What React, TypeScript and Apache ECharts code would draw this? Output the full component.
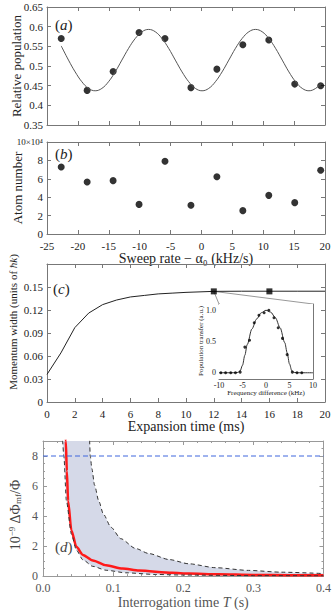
import React, { useEffect, useRef } from "react";
import * as echarts from "echarts";

// ---- Panel (a) / (b): sweep rate data ----
const sweepRate = [-22.7, -18.5, -14.3, -10.1, -5.9, -1.7, 2.5, 6.7, 10.9, 15.1, 19.3];
const relPop = [0.57, 0.438, 0.486, 0.585, 0.57, 0.445, 0.492, 0.554, 0.566, 0.454, 0.45];
const fitSweep = [
  -22.7, -21.52, -20.44, -19.36, -18.28, -17.2, -16.12, -15.04, -13.96, -12.88, -11.79, -10.71, -9.63,
  -8.55, -7.47, -6.39, -5.31, -4.23, -3.14, -2.06, -0.98, 0.1, 1.18, 2.26, 3.34, 4.43, 5.51, 6.59, 7.67,
  8.75, 9.83, 10.91, 11.99, 13.08, 14.16, 15.24, 16.32, 17.4, 18.48, 19.3,
];
const fitPop = [
  0.551, 0.515, 0.485, 0.46, 0.443, 0.437, 0.443, 0.46, 0.485, 0.515, 0.545, 0.57, 0.587, 0.593, 0.587,
  0.57, 0.545, 0.515, 0.485, 0.46, 0.443, 0.437, 0.443, 0.46, 0.485, 0.515, 0.545, 0.57, 0.587, 0.593,
  0.587, 0.57, 0.545, 0.515, 0.485, 0.46, 0.443, 0.437, 0.443, 0.455,
];
const atomNumber = [7.28, 5.65, 5.8, 3.22, 7.9, 3.12, 6.23, 2.54, 4.2, 3.41, 6.92]; // x10^4

// ---- Panel (c): expansion ----
const expTime = [0, 1, 2, 3, 4, 5, 6, 7, 8, 9, 10, 12, 14, 16, 18, 20];
const momWidth = [0.036, 0.064, 0.097, 0.116, 0.127, 0.133, 0.137, 0.139, 0.141, 0.142, 0.143, 0.1443, 0.1445, 0.1445, 0.1445, 0.1445];
const markerTime = [12, 16];
const markerWidth = [0.1443, 0.1443];

// ---- Inset ----
const freqDiff = [-9.6, -8.6, -7.5, -6.5, -5.5, -4.5, -3.5, -2.5, -1.5, -0.4, 0.6, 1.7, 2.6, 3.5, 4.5, 5.6, 6.6, 7.6];
const popTransfer = [0, 0, 0, 0, 0.01, 0.41, 0.52, 0.8, 0.92, 0.96, 1.0, 0.88, 0.72, 0.55, 0.29, 0.01, 0, 0];
const fitFreq = [-10, -7, -6, -5.5, -5, -4.5, -4, -3, -2, -1, 0, 1, 2, 3, 4, 4.5, 5, 5.5, 6, 7, 10];
const fitTransfer = [0, 0, 0.005, 0.03, 0.12, 0.28, 0.45, 0.7, 0.86, 0.96, 1.0, 0.97, 0.88, 0.72, 0.48, 0.32, 0.14, 0.03, 0.005, 0, 0];

// ---- Panel (d) ----
const redT = [0.0318, 0.0325, 0.034, 0.0358, 0.0405, 0.0476, 0.057, 0.0711, 0.09, 0.1135, 0.137, 0.184, 0.208, 0.25, 0.3, 0.35, 0.4];
const redV = [9.5, 9.0, 7.0, 5.0, 3.04, 1.95, 1.41, 1.04, 0.72, 0.5, 0.37, 0.22, 0.17, 0.12, 0.08, 0.06, 0.05];
const lowT = [0.0272, 0.0278, 0.0297, 0.0334, 0.0405, 0.0476, 0.057, 0.071, 0.09, 0.118, 0.16, 0.2, 0.3, 0.4];
const lowV = [9.5, 9.0, 8.0, 5.0, 2.8, 1.73, 1.08, 0.65, 0.39, 0.22, 0.11, 0.07, 0.03, 0.02];
const upT = [0.0658, 0.0664, 0.0674, 0.0697, 0.0735, 0.0796, 0.0862, 0.097, 0.111, 0.132, 0.151, 0.18, 0.208, 0.246, 0.293, 0.34, 0.4];
const upV = [9.5, 9.0, 8.0, 7.16, 6.07, 4.99, 4.12, 3.25, 2.49, 1.84, 1.5, 1.1, 0.82, 0.56, 0.38, 0.26, 0.17];
const limitLevel = 8;

const SERIF = "Liberation Serif";
const TXT = "#222";
const BOX = "#777";

const zip = (a: number[], b: number[]) => a.map((v, i) => [v, b[i]]);

function axisBase(gridIndex: number, min: number, max: number, interval: number | undefined, extra: any) {
  return {
    type: "value",
    gridIndex,
    min,
    max,
    interval,
    splitLine: { show: false },
    axisLine: { show: true, onZero: false, lineStyle: { color: extra.lineColor || BOX } },
    axisTick: { show: true, inside: true, length: extra.tickLen || 4, lineStyle: { color: extra.lineColor || BOX }, ...(extra.tick || {}) },
    minorTick: extra.minor || { show: false },
  };
}
function xPair(gridIndex: number, min: number, max: number, interval: number | undefined, label: any, extra: any = {}) {
  const base = axisBase(gridIndex, min, max, interval, extra);
  return [
    { ...base, position: "bottom", axisLabel: label, ...(extra.name || {}) },
    { ...base, position: "top", axisLabel: { show: false } },
  ];
}
function yPair(gridIndex: number, min: number, max: number, interval: number | undefined, label: any, extra: any = {}) {
  const base = axisBase(gridIndex, min, max, interval, extra);
  return [
    { ...base, position: "left", axisLabel: label },
    { ...base, position: "right", axisLabel: { show: false } },
  ];
}

const lab = (size: number, extra: any = {}) => ({ show: true, fontFamily: SERIF, fontSize: size, color: TXT, margin: 4, ...extra });

export default function App() {
  const ref = useRef<HTMLDivElement>(null);
  useEffect(() => {
    if (!ref.current) return;
    const chart = echarts.init(ref.current, undefined, { renderer: "svg" });
    const dColor = "#555";
    const dashed = (t: number[], v: number[]) => ({
      type: "line", xAxisIndex: 8, yAxisIndex: 8, data: zip(t, v), smooth: 0.25, smoothMonotone: "x",
      symbol: "none", lineStyle: { color: "#333", width: 1, type: [4, 3] }, z: 4,
    });
    const option: any = {
      animation: false,
      backgroundColor: "#fff",
      textStyle: { fontFamily: SERIF },
      grid: [
        { left: 47, top: 7, width: 278, height: 118 },
        { left: 47, top: 142, width: 278, height: 92 },
        { left: 47, top: 264, width: 278, height: 138 },
        { left: 219, top: 304, width: 94, height: 75, show: true, backgroundColor: "#fff", borderWidth: 0, z: 5 },
        { left: 43, top: 441, width: 283, height: 137 },
      ],
      xAxis: [
        ...xPair(0, -25, 20, 5, { show: false }),
        ...xPair(1, -25, 20, 5, lab(11, { margin: 6 }), {
          name: {
            name: "Sweep rate − α₀ (kHz/s)",
            nameLocation: "middle",
            nameGap: 17,
            nameTextStyle: { fontFamily: SERIF, fontSize: 14, color: TXT },
          },
        }),
        ...xPair(2, 0, 20, 2, lab(11, { margin: 6 }), {
          name: {
            name: "Expansion time (ms)",
            nameLocation: "middle",
            nameGap: 17,
            nameTextStyle: { fontFamily: SERIF, fontSize: 14, color: TXT },
          },
        }),
        ...xPair(3, -10, 10, 5, lab(8, { margin: 2 }), {
          tickLen: 2,
          name: {
            name: "Frequency difference (kHz)",
            nameLocation: "middle",
            nameGap: 10,
            nameTextStyle: { fontFamily: SERIF, fontSize: 7, color: TXT },
          },
        }),
        ...xPair(4, 0, 0.4, 0.1, lab(12, { color: dColor, margin: 6, formatter: (v: number) => v.toFixed(1) }), {
          lineColor: "#999",
          minor: { show: true, splitNumber: 5, length: 2, lineStyle: { color: "#999" } },
          name: {
            name: "Interrogation time {i|T} (s)",
            nameLocation: "middle",
            nameGap: 17,
            nameTextStyle: {
              fontFamily: SERIF,
              fontSize: 14,
              color: dColor,
              rich: { i: { fontStyle: "italic", fontFamily: SERIF, fontSize: 14, color: dColor } },
            },
          },
        }),
      ],
      yAxis: [
        ...yPair(0, 0.35, 0.65, 0.05, lab(11)),
        ...yPair(1, 0, 10, 2, lab(11, {
          formatter: (v: number) => (v === 10 ? "{s|10×10⁴}" : String(v)),
          rich: { s: { fontFamily: SERIF, fontSize: 9, color: TXT } },
        })),
        ...yPair(2, 0, 0.18, 0.03, lab(11, { showMaxLabel: false, formatter: (v: number) => (v === 0 ? "0" : v.toFixed(2)) })),
        ...yPair(3, -0.1, 1.1, undefined, lab(8, { margin: 3, customValues: [0, 0.5, 1], formatter: (v: number) => (v === 1 ? "1.0" : String(v)) }), {
          tickLen: 2,
          tick: { customValues: [0, 0.5, 1] },
        }),
        ...yPair(4, 0, 9, 2, lab(12, { color: dColor, showMaxLabel: false, margin: 5 }), {
          lineColor: "#999",
          minor: { show: true, splitNumber: 4, length: 2, lineStyle: { color: "#999" } },
        }),
      ],
      series: [
        // (a)
        {
          type: "line", xAxisIndex: 0, yAxisIndex: 0, data: zip(fitSweep, fitPop), smooth: 0.4,
          showSymbol: false, symbol: "none", lineStyle: { color: "#555", width: 1 },
        },
        {
          type: "scatter", xAxisIndex: 0, yAxisIndex: 0, data: zip(sweepRate, relPop),
          symbolSize: 7, itemStyle: { color: "#000" },
        },
        // (b)
        {
          type: "scatter", xAxisIndex: 2, yAxisIndex: 2, data: zip(sweepRate, atomNumber),
          symbolSize: 7, itemStyle: { color: "#000" },
        },
        // (c)
        {
          type: "line", xAxisIndex: 4, yAxisIndex: 4, data: zip(expTime, momWidth), smooth: false,
          symbol: "none", lineStyle: { color: "#222", width: 1 },
        },
        {
          type: "scatter", xAxisIndex: 4, yAxisIndex: 4, data: zip(markerTime, markerWidth),
          symbol: "rect", symbolSize: 6, itemStyle: { color: "#000" }, z: 4,
        },
        // inset
        {
          type: "line", xAxisIndex: 6, yAxisIndex: 6, data: zip(fitFreq, fitTransfer), smooth: 0.3,
          smoothMonotone: "x", symbol: "none", lineStyle: { color: "#333", width: 1 }, z: 6,
        },
        {
          type: "scatter", xAxisIndex: 6, yAxisIndex: 6, data: zip(freqDiff, popTransfer),
          symbolSize: 3, itemStyle: { color: "#000" }, z: 7,
        },
        // (d) shaded band between the two dashed curves
        {
          type: "custom", xAxisIndex: 8, yAxisIndex: 8, data: [[0, 0]], silent: true, z: 1,
          renderItem: (_p: any, api: any) => {
            const pts: number[][] = [];
            lowT.forEach((t, i) => { if (lowV[i] <= 9) pts.push(api.coord([t, lowV[i]])); });
            for (let i = upT.length - 1; i >= 0; i--) if (upV[i] <= 9) pts.push(api.coord([upT[i], upV[i]]));
            return { type: "polygon", shape: { points: pts }, style: { fill: "#d5d9e8", stroke: "none" } };
          },
        },
        {
          type: "line", xAxisIndex: 8, yAxisIndex: 8, data: zip(redT, redV), smooth: 0.25, smoothMonotone: "x",
          symbol: "none", lineStyle: { color: "#ff1a1a", width: 2.5 }, z: 3,
        },
        dashed(lowT, lowV),
        dashed(upT, upV),
        {
          type: "line", xAxisIndex: 8, yAxisIndex: 8, data: [[0, limitLevel], [0.4, limitLevel]],
          symbol: "none", lineStyle: { color: "#3f66dd", width: 1, type: [5, 3] }, z: 4,
        },
      ],
    };
    chart.setOption(option);

    const sq = chart.convertToPixel({ xAxisIndex: 4, yAxisIndex: 4 }, [markerTime[0], markerWidth[0]]) as number[];
    const tl = chart.convertToPixel({ xAxisIndex: 6, yAxisIndex: 6 }, [-10, 1.1]) as number[];
    const tr = chart.convertToPixel({ xAxisIndex: 6, yAxisIndex: 6 }, [10, 1.1]) as number[];

    const panelLabel = (letter: string, x: number, y: number, color = TXT) => ({
      type: "text",
      x,
      y,
      style: {
        text: `{p|(}{i|${letter}}{p|)}`,
        rich: {
          p: { fontFamily: SERIF, fontSize: 15, fill: color },
          i: { fontFamily: SERIF, fontSize: 15, fontStyle: "italic", fill: color },
        },
        verticalAlign: "middle",
        align: "left",
      },
      z: 20,
    });
    const vTitle = (text: string, x: number, y: number, size: number, color = TXT, rich?: any) => ({
      type: "text",
      x,
      y,
      rotation: Math.PI / 2,
      style: {
        text,
        fontFamily: SERIF,
        fontSize: size,
        fill: color,
        align: "center",
        verticalAlign: "middle",
        rich,
      },
      z: 20,
    });

    chart.setOption({
      graphic: [
        panelLabel("a", 55, 25),
        panelLabel("b", 55, 154),
        panelLabel("c", 53, 289),
        panelLabel("d", 55, 547, "#444"),
        vTitle("Relative population", 16, 66, 13),
        vTitle("Atom number", 17, 188, 13),
        vTitle("{n|Momentum width (units of }{i|ħk}{n|)}", 13, 322, 11, TXT, {
          n: { fontFamily: SERIF, fontSize: 11, fill: TXT },
          i: { fontFamily: SERIF, fontSize: 11, fontStyle: "italic", fill: TXT },
        }),
        vTitle("Population transfer (a.u.)", 201, 341, 7),
        vTitle("{a|10}{s|−9}{a| ΔΦ}{b|mf}{a|/Φ}", 15, 515, 13, "#444", {
          a: { fontFamily: SERIF, fontSize: 14, fill: "#444" },
          s: { fontFamily: SERIF, fontSize: 9, fill: "#444", verticalAlign: "top", padding: [0, 0, 6, 0] },
          b: { fontFamily: SERIF, fontSize: 9, fill: "#444", verticalAlign: "bottom", padding: [4, 0, 0, 0] },
        }),
        {
          type: "line",
          shape: { x1: sq[0], y1: sq[1], x2: tl[0], y2: tl[1] },
          style: { stroke: "#999", lineWidth: 1 },
          z: 3,
        },
        {
          type: "line",
          shape: { x1: sq[0], y1: sq[1], x2: tr[0], y2: tr[1] },
          style: { stroke: "#999", lineWidth: 1 },
          z: 3,
        },
      ],
    });
    return () => chart.dispose();
  }, []);
  return <div ref={ref} style={{ position: "absolute", left: 0, top: 0, width: 334, height: 610 }} />;
}
